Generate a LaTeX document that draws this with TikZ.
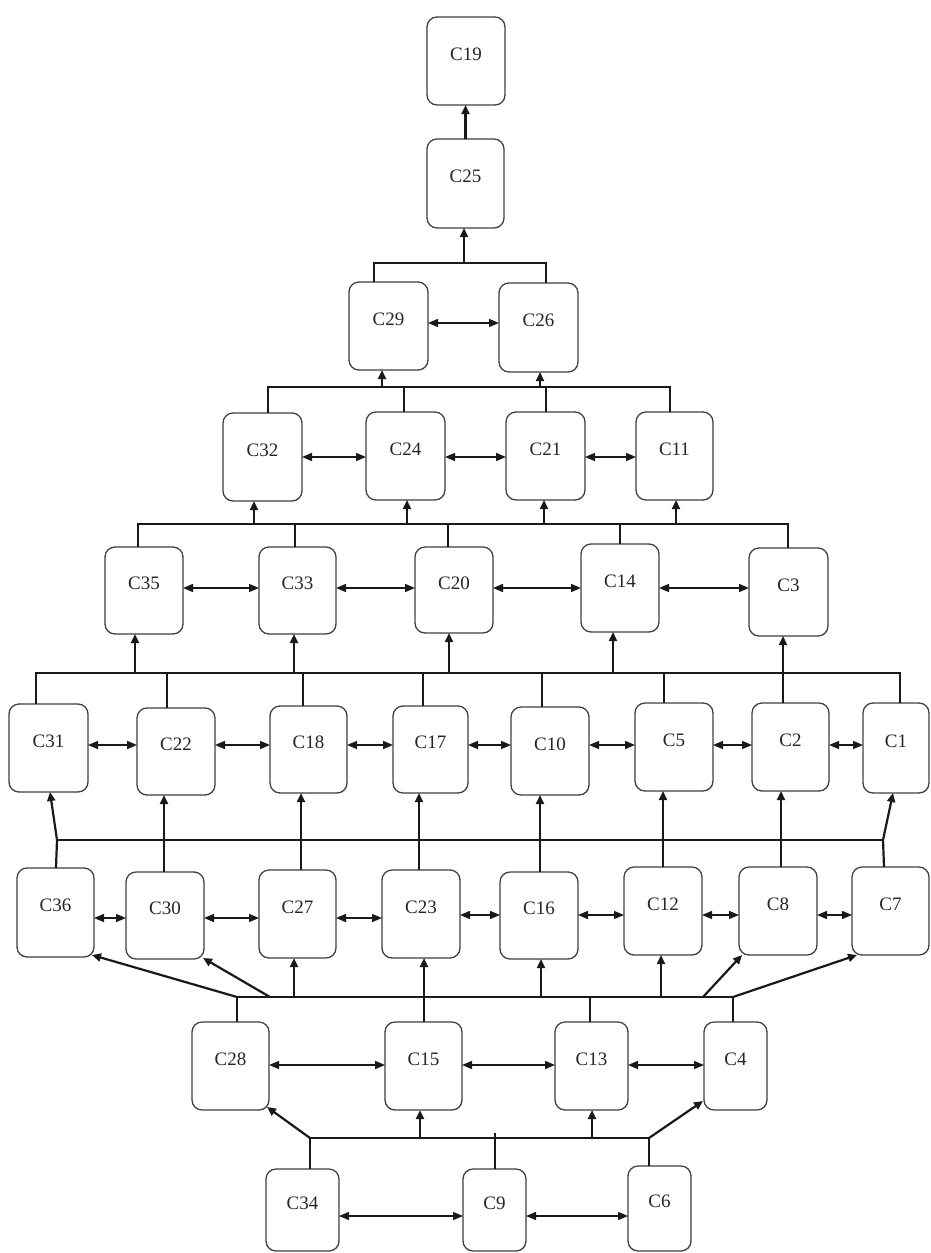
\documentclass[tikz,border=0pt]{standalone}
\usepackage{fontspec}
\setmainfont{Liberation Serif}
\usetikzlibrary{arrows.meta}
\newcommand\bx[5]{\node[box, minimum width={#4-#2}, minimum height={#5-#3}] (#1) at ({(#2+#4)/2},{(#3+#5)/2}) {#1};}
\newcommand\up[3]{\draw[arr] (#1,0 |- #2) -- (#1,0 |- #3.south);}
\newcommand\rs[3]{\draw[tree] (#1,0 |- #3.north) -- (#1,0 |- #2);}
\newcommand\dbl[3]{\draw[dblarr] (#1.east |- 0,#3) -- (#2.west |- 0,#3);}
\begin{document}
\begin{tikzpicture}[x=1pt,y=-1pt,
  box/.style={draw=black!75, line width=1.3pt, rounded corners=10pt, outer sep=0pt, inner sep=0pt,
    font=\fontsize{19}{19}\selectfont, text=black!85, text height=10pt, text depth=12pt},
  tree/.style={line width=2.2pt, black!90, line join=miter},
  arr/.style={tree, -{Triangle[length=9pt,width=8pt]}},
  dblarr/.style={line width=1.5pt, black!90, {Triangle[length=10pt,width=8pt]}-{Triangle[length=10pt,width=8pt]}}]
\useasboundingbox[fill=white] (0,0) rectangle (931,1253);
% boxes
\bx{C19}{427}{17}{505}{105}
\bx{C25}{427}{139}{504}{228}
\bx{C29}{349}{282}{428}{370}
\bx{C26}{499}{283}{578}{372}
\bx{C32}{223}{413}{302}{501}
\bx{C24}{366}{412}{445}{500}
\bx{C21}{506}{412}{585}{500}
\bx{C11}{636}{412}{713}{500}
\bx{C35}{105}{547}{183}{634}
\bx{C33}{259}{547}{336}{634}
\bx{C20}{415}{547}{493}{633}
\bx{C14}{581}{544}{659}{632}
\bx{C3}{749}{548}{828}{636}
\bx{C31}{9}{704}{88}{792}
\bx{C22}{137}{708}{215}{795}
\bx{C18}{270}{706}{347}{793}
\bx{C17}{393}{706}{468}{793}
\bx{C10}{511}{707}{589}{795}
\bx{C5}{635}{703}{713}{791}
\bx{C2}{752}{703}{829}{791}
\bx{C1}{863}{703}{929}{793}
\bx{C36}{17}{868}{94}{957}
\bx{C30}{126}{872}{204}{959}
\bx{C27}{259}{870}{336}{958}
\bx{C23}{382}{870}{460}{958}
\bx{C16}{500}{872}{578}{959}
\bx{C12}{624}{867}{702}{955}
\bx{C8}{739}{867}{817}{955}
\bx{C7}{852}{867}{929}{955}
\bx{C28}{192}{1022}{269}{1110}
\bx{C15}{385}{1022}{462}{1110}
\bx{C13}{555}{1022}{628}{1110}
\bx{C4}{704}{1022}{767}{1110}
\bx{C34}{266}{1169}{339}{1251}
\bx{C9}{463}{1169}{526}{1251}
\bx{C6}{628}{1166}{691}{1251}
% bar 1
\coordinate (b1) at (0,263);
\draw[tree] (374,0 |- C29.north) |- (546,0 |- b1) -- (546,0 |- C26.north);
\up{464}{b1}{C25}
\draw[arr] (C25.north) -- (C25.north |- C19.south);
% bar 2
\coordinate (b2) at (0,387);
\draw[tree] (268,0 |- C32.north) |- (670,0 |- b2) -- (670,0 |- C11.north);
\rs{404}{b2}{C24} \rs{546}{b2}{C21}
\up{382}{b2}{C29} \up{540}{b2}{C26}
% bar 3
\coordinate (b3) at (0,524);
\draw[tree] (138,0 |- C35.north) |- (788,0 |- b3) -- (788,0 |- C3.north);
\rs{295}{b3}{C33} \rs{448}{b3}{C20} \rs{620}{b3}{C14}
\up{254}{b3}{C32} \up{407}{b3}{C24} \up{544}{b3}{C21} \up{676}{b3}{C11}
% bar 4
\coordinate (b4) at (0,673);
\draw[tree] (36,0 |- C31.north) |- (900,0 |- b4) -- (900,0 |- C1.north);
\rs{167}{b4}{C22} \rs{303}{b4}{C18} \rs{423}{b4}{C17} \rs{542}{b4}{C10} \rs{664}{b4}{C5} \rs{783}{b4}{C2}
\up{135}{b4}{C35} \up{294}{b4}{C33} \up{449}{b4}{C20} \up{613}{b4}{C14} \up{783}{b4}{C3}
% bar 5
\coordinate (b5) at (0,840);
\draw[tree] (57,0 |- b5) -- (883,0 |- b5);
\draw[tree] (56,0 |- C36.north) -- (57,0 |- b5);
\draw[arr] (57,0 |- b5) -- (50,0 |- C31.south);
\draw[tree] (884,0 |- C7.north) -- (883,0 |- b5);
\draw[arr] (883,0 |- b5) -- (893,0 |- C1.south);
\draw[arr] (164,0 |- C30.north) -- (164,0 |- C22.south);
\draw[arr] (301,0 |- C27.north) -- (301,0 |- C18.south);
\draw[arr] (419,0 |- C23.north) -- (419,0 |- C17.south);
\draw[arr] (540,0 |- C16.north) -- (540,0 |- C10.south);
\draw[arr] (663,0 |- C12.north) -- (663,0 |- C5.south);
\draw[arr] (781,0 |- C8.north) -- (781,0 |- C2.south);
% bar 6
\coordinate (b6) at (0,997);
\draw[tree] (237,0 |- C28.north) |- (733,0 |- b6) -- (733,0 |- C4.north);
\rs{590}{b6}{C13}
\draw[arr] (424,0 |- C15.north) -- (424,0 |- C23.south);
\draw[arr] (237,0 |- b6) -- ([xshift=-2pt,yshift=2pt]C36.south east);
\draw[arr] (270,0 |- b6) -- ([xshift=-1pt,yshift=1pt]C30.south east);
\up{294}{b6}{C27} \up{541}{b6}{C16} \up{661}{b6}{C12}
\draw[arr] (703,0 |- b6) -- ([xshift=3pt]C8.south west);
\draw[arr] (733,0 |- b6) -- ([xshift=5pt]C7.south west);
% bar 7
\coordinate (b7) at (0,1138);
\draw[tree] (310,0 |- C34.north) |- (649,0 |- b7) -- (649,0 |- C6.north);
\draw[tree] (495,0 |- C9.north) -- ++(0,-36);
\draw[arr] (310,0 |- b7) -- ([xshift=-2pt,yshift=3pt]C28.south east);
\up{420}{b7}{C15} \up{592}{b7}{C13}
\draw[arr] (649,0 |- b7) -- ([xshift=-1pt,yshift=9pt]C4.south west);
% double arrows
\dbl{C29}{C26}{323}
\dbl{C32}{C24}{457} \dbl{C24}{C21}{457} \dbl{C21}{C11}{457}
\dbl{C35}{C33}{588} \dbl{C33}{C20}{588} \dbl{C20}{C14}{588} \dbl{C14}{C3}{588}
\dbl{C31}{C22}{745} \dbl{C22}{C18}{745} \dbl{C18}{C17}{745} \dbl{C17}{C10}{745}
\dbl{C10}{C5}{745} \dbl{C5}{C2}{745} \dbl{C2}{C1}{745}
\dbl{C36}{C30}{918} \dbl{C30}{C27}{918} \dbl{C27}{C23}{918}
\dbl{C23}{C16}{915} \dbl{C16}{C12}{915} \dbl{C12}{C8}{915} \dbl{C8}{C7}{915}
\dbl{C28}{C15}{1065} \dbl{C15}{C13}{1065} \dbl{C13}{C4}{1065}
\dbl{C34}{C9}{1216} \dbl{C9}{C6}{1216}
\end{tikzpicture}
\end{document}
